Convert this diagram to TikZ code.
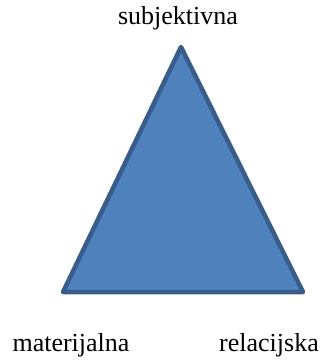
\documentclass[tikz,border=0pt]{standalone}
\usepackage{fontspec}
\setmainfont{Liberation Serif}
\usepackage{tikz}
\usetikzlibrary{positioning,calc}
\usepackage{xcolor}
\definecolor{fillblue}{HTML}{4F81BD}
\definecolor{edgeblue}{HTML}{385D8A}
\tikzset{corner/.style={font=\fontsize{26}{30}\selectfont, anchor=base, inner sep=0pt},
  tri/.style={fill=fillblue,draw=edgeblue,line width=4.5pt,line join=round}}

\begin{document}
\begin{tikzpicture}[x=1pt,y=-1pt]
    \useasboundingbox (0,0) rectangle (329,360);
    \coordinate (top) at (181,47);
    \coordinate (left) at (63,292);
    \coordinate (right) at (303,292);
    \draw[tri] (top)--(left)--(right)--cycle;
    \node[corner] (subj) at (178,24) {subjektivna};
    \node[corner] (mat) at (71,351) {materijalna};
    \node[corner] (rel) at (269,351) {relacijska};
  \end{tikzpicture}
\end{document}
